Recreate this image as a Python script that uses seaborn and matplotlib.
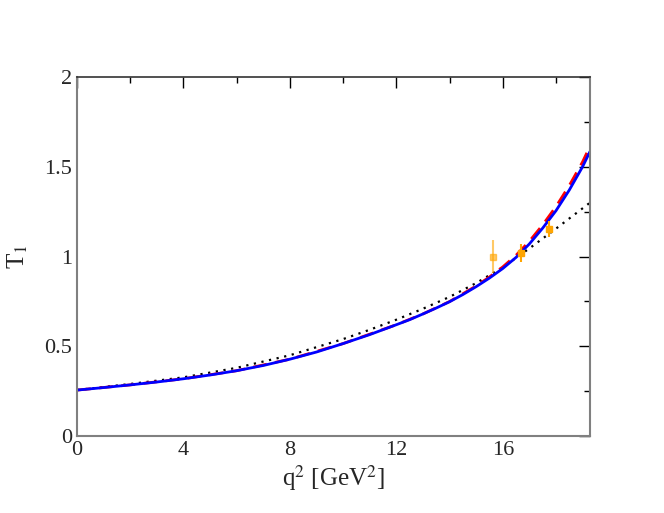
import seaborn as sns
import matplotlib.pyplot as plt
import pandas as pd
from matplotlib.ticker import MultipleLocator

# curves
q2_blue = [0, 1, 2, 3, 4, 5, 6, 7, 8, 9, 10, 11, 12, 12.5, 13, 13.5, 14, 14.5, 15, 15.5, 16, 16.5, 17, 17.5,
           18, 18.5, 19, 19.28]
t1_blue = [0.256, 0.27, 0.285, 0.301, 0.319, 0.34, 0.364, 0.393, 0.428, 0.468, 0.515, 0.565, 0.62, 0.648, 0.68,
           0.713, 0.748, 0.788, 0.832, 0.88, 0.933, 0.995, 1.07, 1.158, 1.255, 1.37, 1.50, 1.585]

q2_red = [0, 2, 4, 6, 8, 10, 12, 13, 14, 15, 15.5, 16, 16.5, 17, 17.5, 18, 18.5, 19, 19.28]
t1_red = [0.256, 0.285, 0.319, 0.364, 0.428, 0.515, 0.62, 0.68, 0.749, 0.836, 0.886, 0.942, 1.007, 1.085, 1.176,
          1.278, 1.395, 1.527, 1.615]

q2_dot = [0, 2, 4, 6, 8, 10, 11, 12, 13, 14, 15, 16, 17, 18, 19.28]
t1_dot = [0.256, 0.29, 0.327, 0.38, 0.45, 0.54, 0.592, 0.648, 0.709, 0.775, 0.852, 0.94, 1.045, 1.155, 1.30]

# lattice points
q2_pts = [15.63, 16.7, 17.72]
t1_pts = [1.0, 1.02, 1.153]
t1_err = [0.09, 0.05, 0.045]

sns.set_style("white")
plt.rcParams["font.family"] = ["Liberation Serif", "DejaVu Serif"]
plt.rcParams["mathtext.fontset"] = "stix"

fig = plt.figure(figsize=(6.64, 5.13), dpi=100)
ax = fig.add_axes([0.116, 0.150, 0.7726, 0.700])

sns.lineplot(x=q2_dot, y=t1_dot, ax=ax, color="black", linestyle=(0, (1, 2.5)), linewidth=1.6)
sns.lineplot(x=q2_red, y=t1_red, ax=ax, color="red", linestyle=(0, (5, 3)), linewidth=2)
sns.lineplot(x=q2_blue, y=t1_blue, ax=ax, color="blue", linewidth=2)

ax.errorbar(q2_pts[:1], t1_pts[:1], yerr=t1_err[:1], fmt="s", color="orange",
            ms=5, elinewidth=1.5, capsize=0, alpha=0.6)
ax.errorbar(q2_pts[1:], t1_pts[1:], yerr=t1_err[1:], fmt="s", color="orange",
            ms=5, elinewidth=1.5, capsize=0)

ax.set_xlim(0, 19.28)
ax.set_ylim(0, 2)
ax.xaxis.set_major_locator(MultipleLocator(4))
ax.xaxis.set_minor_locator(MultipleLocator(2))
ax.set_yticks([0, 0.5, 1, 1.5, 2])
ax.set_yticklabels(["0", "0.5", "1", "1.5", "2"])
ax.yaxis.set_minor_locator(MultipleLocator(0.25))

ax.tick_params(which="both", direction="in", top=True, right=True, labelsize=16, color="black")
ax.tick_params(which="major", length=8, width=1)
ax.tick_params(which="minor", length=4, width=1)
for s in ax.spines.values():
    s.set_color("#808080")
    s.set_linewidth(1.5)
ax.spines["top"].set_color("#333333")
ax.spines["top"].set_linewidth(1.2)

ax.set_xlabel("q$^2$ [GeV$^2$]", fontsize=18, labelpad=2)
ax.set_ylabel("T$_1$", fontsize=18, labelpad=10)

fig.savefig("out.png", dpi=100)
